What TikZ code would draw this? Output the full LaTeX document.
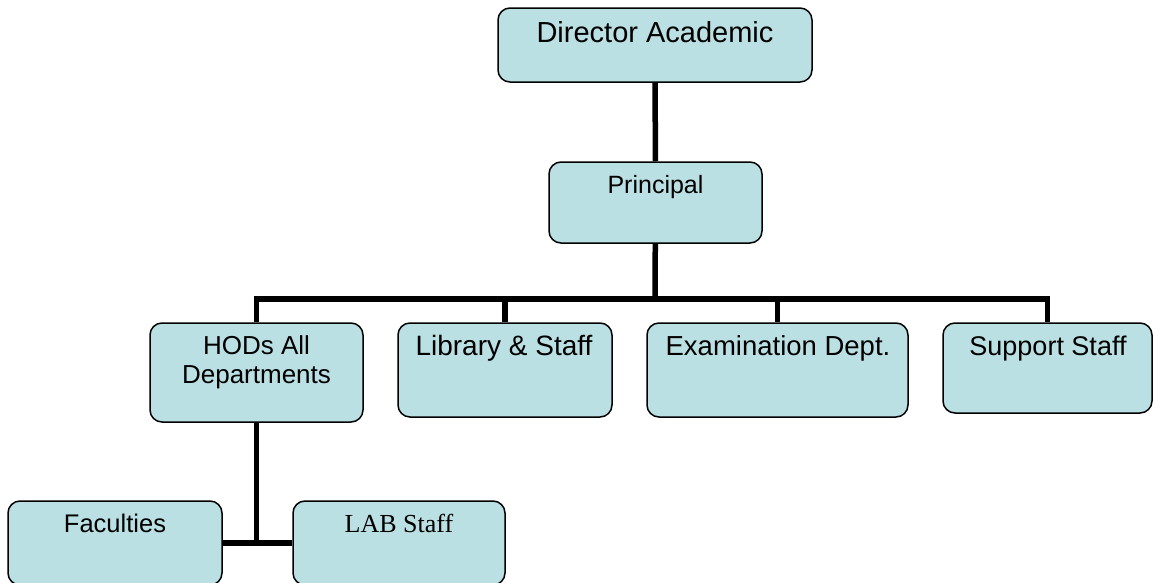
\documentclass[tikz,border=0pt]{standalone}
\usepackage{fontspec}
\setmainfont{Liberation Sans}
\newfontfamily\timesfont{Liberation Serif}
\definecolor{boxfill}{HTML}{BBE0E3}

\begin{document}
\begin{tikzpicture}[x=1pt, y=-1pt,
        unit/.style={draw=black, fill=boxfill, line width=1.5pt, rounded corners=12pt, inner sep=0pt},
        caption/.style={anchor=base, inner sep=0pt, font=\fontsize{#1}{#1}\selectfont},
        caption/.default=27,
        link/.style={draw=black, line width=5.5pt, line join=miter}]
        \clip (0, 0) rectangle (1160, 582);

        % boxes
        \node[unit, minimum width=314, minimum height=74] (dir) at (655, 45) {};
        \node[unit, minimum width=213, minimum height=81] (prin) at (655.5, 202.5) {};
        \node[unit, minimum width=213, minimum height=99] (hod) at (256.5, 372.5) {};
        \node[unit, minimum width=214, minimum height=94] (lib) at (505, 370) {};
        \node[unit, minimum width=261, minimum height=94] (exam) at (777.5, 370) {};
        \node[unit, minimum width=209, minimum height=90] (supp) at (1047.5, 368) {};
        \node[unit, minimum width=214, minimum height=84] (fac) at (115, 543) {};
        \node[unit, minimum width=212, minimum height=84] (lab) at (399, 543) {};

        % texts
        \node[caption=29] (dir_text) at (655, 42) {Director Academic};
        \node[caption=25] (prin_text) at (655.5, 193) {Principal};
        \node[caption=26] (hod_text) at (256.5, 354) {HODs All};
        \node[caption=26] (hod_text2) at (256.5, 383) {Departments};
        \node[caption=28] (lib_text) at (504, 355) {Library \& Staff};
        \node[caption=27.5] (exam_text) at (778, 355) {Examination Dept.};
        \node[caption=27] (supp_text) at (1048, 355) {Support Staff};
        \node[caption=25.5] (fac_text) at (115, 532) {Faculties};
        \node[caption=26, font=\timesfont\fontsize{26}{26}\selectfont] (lab_text) at (399, 532) {LAB Staff};

        % connectors
        \coordinate (bus) at (655, 299);
        \draw[link] (dir) -- (prin);
        \draw[link] (prin) -- (bus);
        \draw[link] (hod) |- (supp |- bus) -- (supp);
        \draw[link] (lib) -- (lib |- bus);
        \draw[link] (exam) -- (exam |- bus);
        \draw[link] (hod) -- (hod |- fac);
        \draw[link] (fac) -- (lab);
    \end{tikzpicture}
\end{document}
